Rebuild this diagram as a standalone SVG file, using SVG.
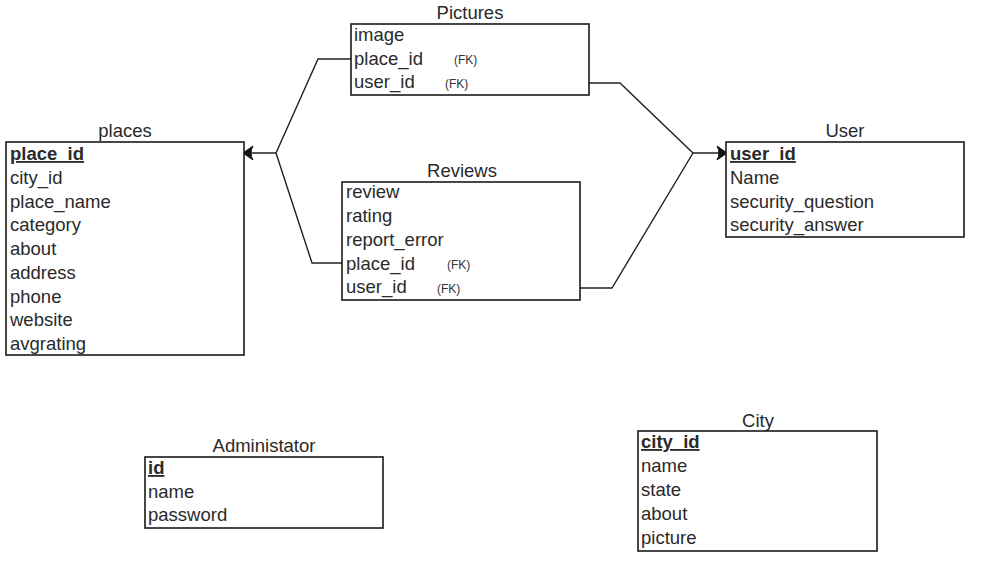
<svg xmlns="http://www.w3.org/2000/svg" width="990" height="569" viewBox="0 0 990 569">
<style>
  .box{fill:#fff;stroke:#1a1a1a;stroke-width:1.6}
  .t{font-family:"Liberation Sans",Arial,sans-serif;font-size:18.5px;fill:#2a2a2a}
  .title{text-anchor:middle}
  .pk{font-weight:bold;text-decoration:underline}
  .fk{font-family:"Liberation Sans",Arial,sans-serif;font-size:12px;fill:#333}
  .conn{fill:none;stroke:#222;stroke-width:1.4}
  .ah{fill:#111;stroke:#111;stroke-width:1}
</style>
<rect width="990" height="569" fill="#fff"/>
<g id="connectors">
  <polyline class="conn" points="351,59 318,59 276,153 250,153"/>
  <polyline class="conn" points="342,263 312,263 276,153"/>
  <path class="ah" d="M243,153 L253,146 Q249,153 253,160 Z"/>
  <polyline class="conn" points="589,83 620,83 693,153 720,153"/>
  <polyline class="conn" points="580,288 612,288 693,153"/>
  <path class="ah" d="M727,153 L717,146 Q721,153 717,160 Z"/>
</g>
<g id="places">
  <text class="t title" x="125" y="137">places</text>
  <rect class="box" x="6" y="142" width="238" height="213"/>
  <text class="t pk" x="10" y="160">place_id</text>
  <text class="t" x="10" y="184">city_id</text>
  <text class="t" x="10" y="207.5">place_name</text>
  <text class="t" x="10" y="231">category</text>
  <text class="t" x="10" y="255">about</text>
  <text class="t" x="10" y="279">address</text>
  <text class="t" x="10" y="302.5">phone</text>
  <text class="t" x="10" y="326">website</text>
  <text class="t" x="10" y="350">avgrating</text>
</g>
<g id="pictures">
  <text class="t title" x="470" y="19">Pictures</text>
  <rect class="box" x="351" y="24" width="238" height="71"/>
  <text class="t" x="354" y="41">image</text>
  <text class="t" x="354" y="64.5">place_id</text>
  <text class="fk" x="454" y="64">(FK)</text>
  <text class="t" x="354" y="88">user_id</text>
  <text class="fk" x="445" y="87.5">(FK)</text>
</g>
<g id="reviews">
  <text class="t title" x="462" y="177">Reviews</text>
  <rect class="box" x="342" y="182" width="238" height="118"/>
  <text class="t" x="346" y="198">review</text>
  <text class="t" x="346" y="222">rating</text>
  <text class="t" x="346" y="246">report_error</text>
  <text class="t" x="346" y="269.5">place_id</text>
  <text class="fk" x="447" y="269">(FK)</text>
  <text class="t" x="346" y="293">user_id</text>
  <text class="fk" x="437" y="292.5">(FK)</text>
</g>
<g id="user">
  <text class="t title" x="845" y="137">User</text>
  <rect class="box" x="726" y="142" width="238" height="95"/>
  <text class="t pk" x="730" y="160">user_id</text>
  <text class="t" x="730" y="184">Name</text>
  <text class="t" x="730" y="207.5">security_question</text>
  <text class="t" x="730" y="231">security_answer</text>
</g>
<g id="administator">
  <text class="t title" x="264" y="452">Administator</text>
  <rect class="box" x="145" y="457" width="238" height="71"/>
  <text class="t pk" x="148" y="474">id</text>
  <text class="t" x="148" y="497.5">name</text>
  <text class="t" x="148" y="521">password</text>
</g>
<g id="city">
  <text class="t title" x="758" y="427">City</text>
  <rect class="box" x="638" y="431" width="239" height="120"/>
  <text class="t pk" x="641" y="448">city_id</text>
  <text class="t" x="641" y="472">name</text>
  <text class="t" x="641" y="496">state</text>
  <text class="t" x="641" y="520">about</text>
  <text class="t" x="641" y="544">picture</text>
</g>
</svg>
